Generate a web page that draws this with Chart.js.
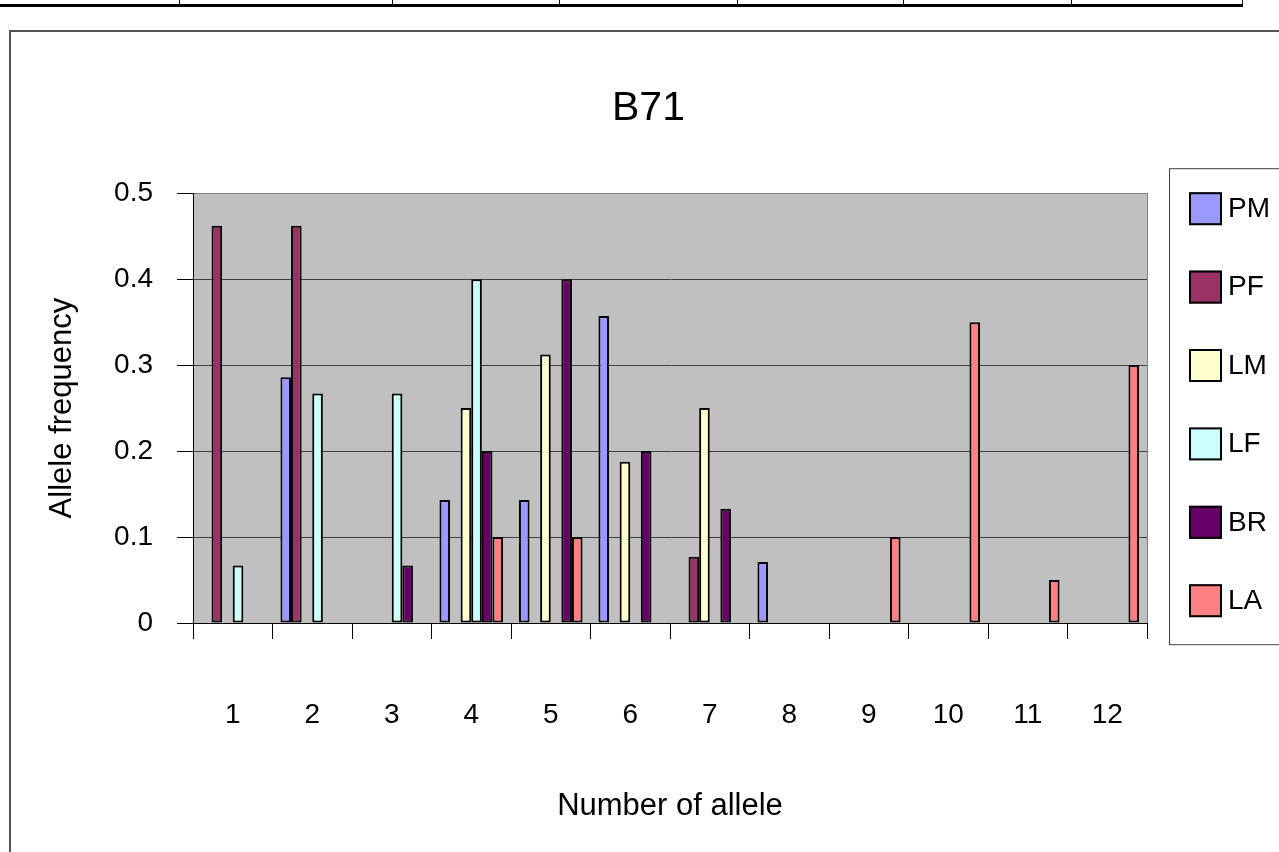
<!DOCTYPE html>
<html>
<head>
<meta charset="utf-8">
<title>B71</title>
<script src="https://cdn.jsdelivr.net/npm/chart.js@4.4.1/dist/chart.umd.min.js"></script>
<style>
	html, body { margin: 0; padding: 0; background: #fff; overflow: hidden; }
	#page { position: relative; width: 1279px; height: 852px; overflow: hidden; }
	/* строка таблицы над диаграммой */
	.row-line { position: absolute; left: -1px; top: 0; width: 1243px; height: 4px; border-bottom: 3px solid #000; border-right: 1px solid #000; }
	.row-cell { position: absolute; top: 0; width: 1px; height: 6px; background: #000; }
	.frame { position: absolute; left: 9px; top: 30px; width: 1300px; height: 900px; border-left: 2px solid #555; border-top: 2px solid #555; }
	#chart { position: absolute; left: 0; top: 0; }
</style>
</head>
<body>
<div id="page">
	<div class="row-line"></div>
	<div class="row-cell" style="left:179px"></div>
	<div class="row-cell" style="left:392px"></div>
	<div class="row-cell" style="left:559px"></div>
	<div class="row-cell" style="left:737px"></div>
	<div class="row-cell" style="left:903px"></div>
	<div class="row-cell" style="left:1071px"></div>
	<div class="frame"></div>
	<canvas id="chart" width="1279" height="852"></canvas>
</div>
<script>
// Данные диаграммы
const alleles = ['1', '2', '3', '4', '5', '6', '7', '8', '9', '10', '11', '12']
const groups = ['PM', 'PF', 'LM', 'LF', 'BR', 'LA']
const groupColors = ['#9999FF', '#993366', '#FFFFCC', '#CCFFFF', '#660066', '#FF8080']

const pm = [null, 0.286, null, 0.143, 0.143, 0.357, null, 0.071, null, null, null, null]
const pf = [0.462, 0.462, null, null, null, null, 0.077, null, null, null, null, null]
const lm = [null, null, null, 0.25, 0.3125, 0.1875, 0.25, null, null, null, null, null]
const lf = [0.067, 0.267, 0.267, 0.4, null, null, null, null, null, null, null, null]
const br = [null, null, 0.067, 0.2, 0.4, 0.2, 0.133, null, null, null, null, null]
const la = [null, null, null, 0.1, 0.1, null, null, null, 0.1, 0.35, 0.05, 0.3]

const seriesValues = [pm, pf, lm, lf, br, la]

const FONT = '"Liberation Sans", Arial, sans-serif'
Chart.defaults.font.family = FONT
Chart.defaults.color = '#000'

// Серый фон области построения
const plotBackground = {
	id: 'plotBackground',
	beforeDraw(chart) {
		const { ctx, chartArea: a } = chart
		ctx.save()
		ctx.fillStyle = '#C0C0C0'
		ctx.fillRect(a.left, a.top, a.right - a.left, a.bottom - a.top)
		ctx.strokeStyle = '#808080'
		ctx.lineWidth = 1
		ctx.beginPath()
		ctx.moveTo(a.right + 0.5, a.top)
		ctx.lineTo(a.right + 0.5, a.bottom)
		ctx.stroke()
		ctx.restore()
	},
}

// Легенда справа в рамке
const sideLegend = {
	id: 'sideLegend',
	start(chart) {
		const box = {
			position: 'right',
			weight: 10,
			fullSize: false,
			options: {},
			isHorizontal: () => false,
			update(maxWidth, maxHeight) {
				box.width = 132
				box.height = maxHeight
			},
			getPadding: () => ({ top: 0, left: 0, right: 0, bottom: 0 }),
			draw() {
				const ctx = chart.ctx
				const x0 = box.left
				const y0 = box.top
				ctx.save()
				ctx.strokeStyle = '#404040'
				ctx.lineWidth = 1
				ctx.strokeRect(x0 + 22.5, y0 - 24.5, 200, 476)
				ctx.font = '28px ' + FONT
				ctx.textBaseline = 'middle'
				ctx.textAlign = 'left'
				chart.data.datasets.forEach((ds, i) => {
					const sy = y0 - 1 + i * 78.4
					ctx.fillStyle = ds.backgroundColor
					ctx.fillRect(x0 + 42, sy, 33, 33)
					ctx.strokeStyle = '#000'
					ctx.lineWidth = 2
					ctx.strokeRect(x0 + 43, sy + 1, 31, 31)
					ctx.fillStyle = '#000'
					ctx.fillText(ds.label, x0 + 81, sy + 17)
				})
				ctx.restore()
			},
		}
		Chart.layouts.addBox(chart, box)
		chart.$sideLegend = box
	},
	stop(chart) {
		Chart.layouts.removeBox(chart, chart.$sideLegend)
	},
}

new Chart(document.getElementById('chart').getContext('2d'), {
	type: 'bar',
	data: {
		labels: alleles,
		datasets: groups.map((name, i) => ({
			label: name,
			data: seriesValues[i],
			backgroundColor: groupColors[i],
			borderColor: '#000',
			borderWidth: 2,
			borderSkipped: false,
			categoryPercentage: 0.8,
			barPercentage: 1.0,
		})),
	},
	options: {
		responsive: false,
		animation: false,
		devicePixelRatio: 1,
		layout: { padding: { left: 18, right: 0, top: 0, bottom: 0 } },
		scales: {
			x: {
				offset: true,
				afterFit: axis => { axis.height = 229 },
				grid: {
					offset: true,
					drawOnChartArea: false,
					tickLength: 16,
					tickColor: '#000',
				},
				border: { color: '#000', width: 1 },
				ticks: { font: { size: 28 }, padding: 59, maxRotation: 0 },
				title: {
					display: true,
					text: 'Number of allele',
					font: { size: 31 },
					padding: { top: 0, bottom: 27 },
				},
			},
			y: {
				min: 0,
				max: 0.5,
				afterFit: axis => { axis.width = 175 },
				ticks: { stepSize: 0.1, font: { size: 28 }, padding: 24 },
				grid: {
					color: c => (c.tick && c.tick.value === 0.5 ? '#808080' : '#404040'),
					tickLength: 16,
					tickColor: '#000',
				},
				border: { color: '#000', width: 1 },
				title: {
					display: true,
					text: 'Allele frequency',
					font: { size: 31 },
					padding: { top: 26, bottom: 0 },
				},
			},
		},
		plugins: {
			legend: { display: false },
			tooltip: { enabled: false },
			title: {
				display: true,
				text: 'B71',
				font: { size: 41, weight: 'normal' },
				padding: { top: 84, bottom: 60 },
			},
		},
	},
	plugins: [plotBackground, sideLegend],
})
</script>
</body>
</html>
